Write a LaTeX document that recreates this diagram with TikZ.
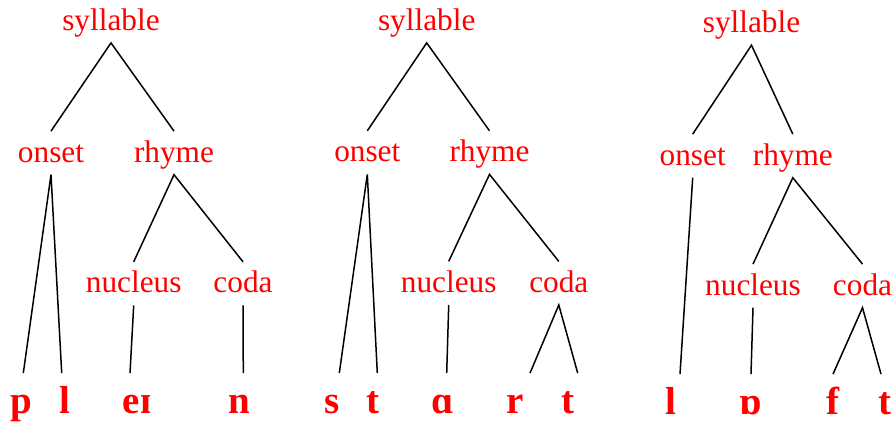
\documentclass[tikz,border=0pt]{standalone}
\usepackage{fontspec}
\setmainfont{Liberation Serif}
\begin{document}
\begin{tikzpicture}[x=1pt,y=-1pt,
  lab/.style={text=red, font=\fontsize{31.3}{36}\selectfont, inner sep=0pt, anchor=base, text height=30.7pt, text depth=12.5pt},
  seg/.style={text=red, font=\fontsize{39}{44}\selectfont\bfseries, inner sep=0pt, anchor=base, text height=40pt, text depth=0pt},
  br/.style={line width=1.5pt}]
\useasboundingbox (0,0) rectangle (894,423);
% ---- tree 1: plein
\node[lab] (syl1) at (111,30.2) {syllable};
\node[lab] (on1) at (51,162) {onset};
\node[lab] (rh1) at (174,162) {rhyme};
\node[lab] (nu1) at (133.7,292.7) {nucleus};
\node[lab] (co1) at (243,292.7) {coda};
\node[seg] (p1) at (21,413.3) {p};
\node[seg] (l1) at (65,413.3) {l};
\node[seg] (ei1) at (137,413.3) {eɪ};
\node[seg] (n1) at (239.5,413.3) {n};
\draw[br] (on1.north) -- (syl1.south) -- (rh1.north);
\draw[br] ([xshift=2.3pt]p1.north) -- (on1.south) -- ([xshift=-3.3pt]l1.north);
\draw[br] (nu1.north) -- (rh1.south) -- (co1.north);
\draw[br] (nu1.south) -- ([xshift=-7pt]ei1.north);
\draw[br] (co1.south) -- ([xshift=3.8pt]n1.north);
% ---- tree 2: start
\node[lab] (syl2) at (426.7,30.2) {syllable};
\node[lab] (on2) at (367.3,161.7) {onset};
\node[lab] (rh2) at (489.5,161.7) {rhyme};
\node[lab] (nu2) at (448.7,292.3) {nucleus};
\node[lab] (co2) at (558.8,292.3) {coda};
\node[seg] (s2) at (332,413.3) {s};
\node[seg] (t2) at (372.5,413.3) {t};
\node[seg] (a2) at (443,413.3) {ɑ};
\node[seg] (r2) at (515,413.3) {r};
\node[seg] (tt2) at (568,413.3) {t};
\draw[br] (on2.north) -- (syl2.south) -- (rh2.north);
\draw[br] ([xshift=7.3pt]s2.north) -- (on2.south) -- ([xshift=4.8pt]t2.north);
\draw[br] (nu2.north) -- (rh2.south) -- (co2.north);
\draw[br] (nu2.south) -- ([xshift=3.7pt]a2.north);
\draw[br] ([xshift=15pt]r2.north) -- (co2.south) -- ([xshift=9.7pt]tt2.north);
% ---- tree 3: loft
\node[lab] (syl3) at (751.5,32.5) {syllable};
\node[lab] (on3) at (692.7,165) {onset};
\node[lab] (rh3) at (792.8,165) {rhyme};
\node[lab] (nu3) at (753,295) {nucleus};
\node[lab] (co3) at (862.5,295) {coda};
\node[seg] (l3) at (671.3,414.3) {l};
\node[seg] (o3) at (751,414.3) {ɒ};
\node[seg] (f3) at (833,414.3) {f};
\node[seg] (t3) at (885,414.3) {t};
\draw[br] (on3.north) -- (syl3.south) -- (rh3.north);
\draw[br] (on3.south) -- ([xshift=8.7pt]l3.north);
\draw[br] (nu3.north) -- (rh3.south) -- (co3.north);
\draw[br] (nu3.south) -- (o3.north);
\draw[br] (f3.north) -- (co3.south) -- ([xshift=-4pt]t3.north);
\end{tikzpicture}
\end{document}
